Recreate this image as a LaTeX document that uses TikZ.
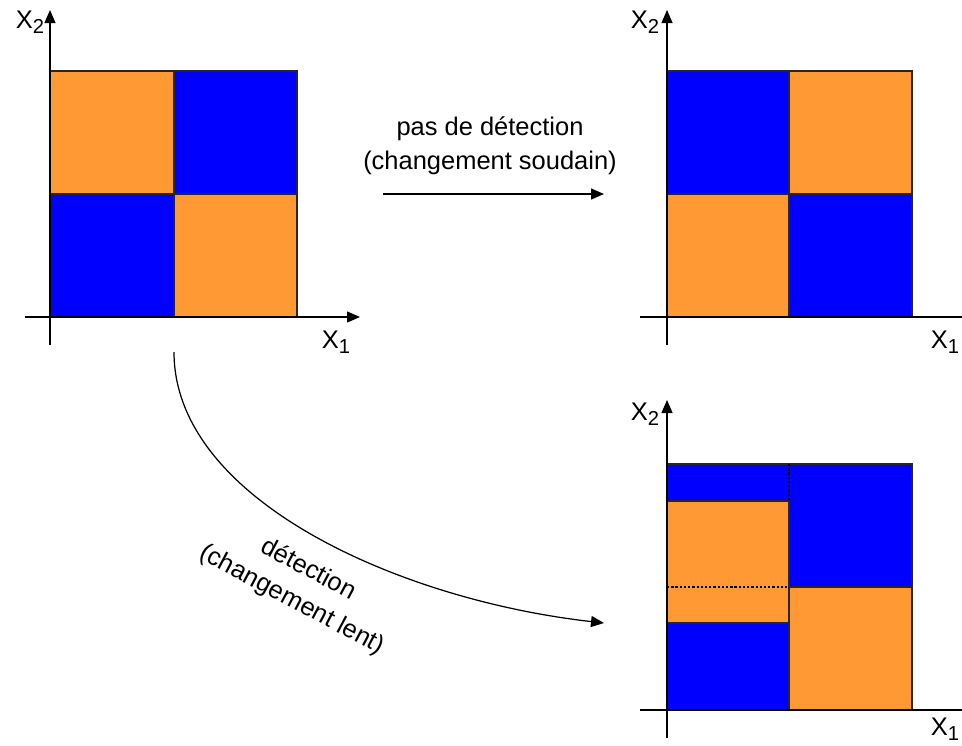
\documentclass[tikz,border=0pt]{standalone}
\usepackage{fontspec}
\setmainfont{Liberation Sans}
\usetikzlibrary{arrows.meta}

\definecolor{cellorange}{RGB}{255,153,51}
\definecolor{cellblue}{RGB}{0,0,255}

\newcommand{\axlabel}[1]{X\raisebox{-0.4ex}{\fontsize{11.5}{12}\selectfont #1}}

\tikzset{
  axis/.style={line width=0.7pt,-{Triangle[length=2.6mm,width=2.2mm]}},
  cell/.style={draw=black!85,line width=0.8pt},
  split/.style={line width=0.7pt,dash pattern=on 1.3pt off 1.1pt},
  flow/.style={line width=0.7pt,-{Triangle[length=2.6mm,width=2.2mm]}},
  lbl/.style={font=\fontsize{14.5}{19.5}\selectfont},
}

\begin{document}
\begin{tikzpicture}[x=0.02cm,y=-0.02cm]
\useasboundingbox (0,0) rectangle (962,745);

% top left: before
\fill[cellorange] (50,71) rectangle (174,194);
\fill[cellblue] (174,71) rectangle (297,194);
\fill[cellblue] (50,194) rectangle (174,317);
\fill[cellorange] (174,194) rectangle (297,317);
\draw[cell] (50,71) rectangle (297,317);
\draw[cell] (174,71) -- (174,317);
\draw[cell] (50,194) -- (297,194);
\draw[axis] (50,345) -- (50,10);
\draw[axis] (25,317) -- (360,317);
\node[lbl,inner sep=1pt] (x2a) at (30,22) {\axlabel{2}};
\node[lbl,inner sep=1pt] (x1a) at (336,342) {\axlabel{1}};

% top right: sudden change
\fill[cellblue] (667,71) rectangle (789,194);
\fill[cellorange] (789,71) rectangle (912,194);
\fill[cellorange] (667,194) rectangle (789,317);
\fill[cellblue] (789,194) rectangle (912,317);
\draw[cell] (667,71) rectangle (912,317);
\draw[cell] (789,71) -- (789,317);
\draw[cell] (667,194) -- (912,194);
\draw[axis] (667,345) -- (667,10);
\draw[axis] (640,317) -- (975,317);
\node[lbl,inner sep=1pt] (x2b) at (645,22) {\axlabel{2}};
\node[lbl,inner sep=1pt] (x1b) at (945,342) {\axlabel{1}};

% bottom right: slow change
\fill[cellblue] (667,464) rectangle (789,501);
\fill[cellorange] (667,501) rectangle (789,623);
\fill[cellblue] (667,623) rectangle (789,710);
\fill[cellblue] (789,464) rectangle (912,587);
\fill[cellorange] (789,587) rectangle (912,710);
\draw[cell] (667,464) rectangle (912,710);
\draw[cell] (789,501) -- (789,710);
\draw[cell] (667,501) -- (789,501);
\draw[cell] (667,623) -- (789,623);
\draw[cell] (789,587) -- (912,587);
\draw[split] (789,464) -- (789,501);
\draw[split] (667,587) -- (789,587);
\draw[axis] (667,738) -- (667,400);
\draw[axis] (640,710) -- (975,710);
\node[lbl,inner sep=1pt] (x2c) at (645,414) {\axlabel{2}};
\node[lbl,inner sep=1pt] (x1c) at (945,729) {\axlabel{1}};

% transitions
\coordinate (from1) at (383,194);
\coordinate (to1) at (604,194);
\draw[flow] (from1) -- (to1);
\node[lbl,align=center] (sudden) at (490,146) {pas de détection\\(changement soudain)};

\coordinate (from2) at (174,352);
\coordinate (to2) at (604,623);
\draw[flow] (from2) .. controls (174,500) and (400,600) .. (to2);
\node[lbl,align=center,rotate=-28] (slow) at (300,585) {détection\\(changement lent)};
\end{tikzpicture}
\end{document}
